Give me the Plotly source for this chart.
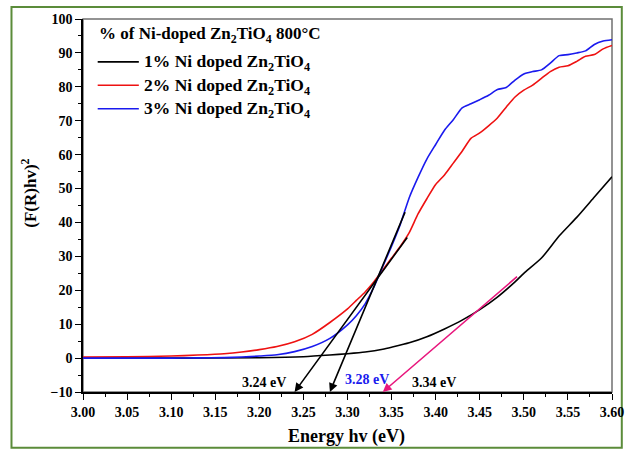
import plotly.graph_objects as go

# Photon energy (eV) and Kubelka-Munk transformed absorbance (F(R)hv)^2
energy_1 = [3.00, 3.10, 3.20, 3.25, 3.28, 3.30, 3.32, 3.34, 3.35, 3.37, 3.39, 3.41,
            3.43, 3.45, 3.47, 3.49, 3.50, 3.52, 3.54, 3.56, 3.58, 3.60]
ni1 = [0.0, 0.0, 0.1, 0.4, 0.9, 1.3, 1.8, 2.6, 3.2, 4.5, 6.3, 8.6,
       11.2, 14.3, 18.0, 22.5, 25.0, 29.5, 36.0, 41.5, 47.5, 53.5]

energy_23 = [3.00, 3.05, 3.10, 3.13, 3.16, 3.18, 3.20, 3.22, 3.24, 3.26, 3.28, 3.30,
             3.31, 3.32, 3.33, 3.34, 3.35, 3.36, 3.37, 3.38, 3.39, 3.40, 3.41, 3.42,
             3.43, 3.44, 3.45, 3.46, 3.47, 3.48, 3.49, 3.50, 3.51, 3.52, 3.53, 3.54,
             3.55, 3.56, 3.57, 3.58, 3.59, 3.60]
ni2 = [0.3, 0.4, 0.6, 0.9, 1.3, 1.8, 2.5, 3.4, 4.8, 7.0, 10.5, 14.5,
       17.0, 19.5, 22.5, 26.0, 29.5, 33.0, 37.0, 42.5, 47.0, 51.2, 54.0, 57.5,
       61.0, 64.8, 66.4, 68.5, 70.8, 74.0, 77.0, 79.0, 80.5, 82.5, 84.5, 85.8,
       86.2, 87.5, 89.0, 89.5, 91.2, 92.2]
ni3 = [0.0, 0.0, 0.0, 0.05, 0.15, 0.3, 0.6, 1.0, 1.9, 3.4, 5.8, 9.8,
       12.5, 16.0, 21.0, 27.0, 33.0, 39.5, 47.3, 53.3, 58.7, 63.0, 67.2, 70.3,
       73.8, 75.0, 76.2, 77.5, 79.2, 79.8, 82.0, 83.8, 84.5, 85.0, 87.0, 89.2,
       89.5, 90.0, 90.6, 92.5, 93.5, 93.9]

series_names = ["1% Ni doped Zn<sub>2</sub>TiO<sub>4</sub>",
                "2% Ni doped Zn<sub>2</sub>TiO<sub>4</sub>",
                "3% Ni doped Zn<sub>2</sub>TiO<sub>4</sub>"]
series_colors = ["#000000", "#ee1111", "#1a1aee"]

# Linear extrapolations: (tail energy, tail value, band gap energy)
tangents = [(3.369, 36.0, 3.24, "#000000"),
            (3.366, 43.5, 3.28, "#000000"),
            (3.494, 24.4, 3.34, "#e8177d")]
gap_labels = [(3.2056, -7.2, "3.24 eV", "#000000"),
              (3.322, -6.4, "3.28 eV", "#1a1aee"),
              (3.398, -7.2, "3.34 eV", "#000000")]

SERIF = "Liberation Serif"

fig = go.Figure()
for xs, ys, name, col in [(energy_1, ni1, series_names[0], series_colors[0]),
                          (energy_23, ni2, series_names[1], series_colors[1]),
                          (energy_23, ni3, series_names[2], series_colors[2])]:
    fig.add_trace(go.Scatter(x=xs, y=ys, mode="lines", name=name,
                             line=dict(color=col, width=1.6, shape="spline", smoothing=0.6),
                             showlegend=False))

annotations = []
for tx, ty, gap, col in tangents:
    annotations.append(dict(x=gap, y=-10, ax=tx, ay=ty, xref="x", yref="y",
                            axref="x", ayref="y", text="", showarrow=True,
                            arrowhead=2, arrowsize=1.1, arrowwidth=1.6, arrowcolor=col))
for lx, ly, txt, col in gap_labels:
    annotations.append(dict(x=lx, y=ly, xref="x", yref="y", text="<b>%s</b>" % txt,
                            xanchor="center", yanchor="middle", showarrow=False,
                            font=dict(family=SERIF, size=14, color=col)))

# Legend drawn as lines and text in paper coordinates
def px_x(p):
    return (p - 83) / 540.0

def px_y(p):
    return (392 - p) / 374.0

shapes = []
annotations.append(dict(x=px_x(97), y=px_y(34), xref="paper", yref="paper", xanchor="left",
                        yanchor="middle", showarrow=False,
                        text="<b>% of Ni-doped Zn<sub>2</sub>TiO<sub>4</sub> 800°C</b>",
                        font=dict(family=SERIF, size=17, color="#000000")))
for i, (name, col) in enumerate(zip(series_names, series_colors)):
    ypx = 61 + 23.5 * i
    shapes.append(dict(type="line", xref="paper", yref="paper", x0=px_x(98), x1=px_x(140),
                       y0=px_y(ypx), y1=px_y(ypx), line=dict(color=col, width=1.6)))
    annotations.append(dict(x=px_x(143), y=px_y(ypx + 1), xref="paper", yref="paper",
                            xanchor="left", yanchor="middle", showarrow=False,
                            text="<b>%s</b>" % name,
                            font=dict(family=SERIF, size=17.5, color="#000000")))

# Axis titles
annotations.append(dict(x=px_x(27), y=px_y(193), xref="paper", yref="paper", textangle=-90,
                        xanchor="center", yanchor="middle", showarrow=False,
                        text="<b>(F(R)hv)<sup>2</sup></b>",
                        font=dict(family=SERIF, size=17, color="#000000")))
annotations.append(dict(x=px_x(352), y=px_y(437), xref="paper", yref="paper",
                        xanchor="center", yanchor="middle", showarrow=False,
                        text="<b>Energy hv (eV)</b>",
                        font=dict(family=SERIF, size=18, color="#000000")))

# Gray frame on top/right and green outer border
shapes.append(dict(type="rect", xref="paper", yref="paper", x0=0, x1=1, y0=0, y1=1,
                   line=dict(color="#707070", width=1.5), layer="below"))
shapes.append(dict(type="rect", xref="paper", yref="paper", x0=px_x(10), x1=px_x(633),
                   y0=px_y(448), y1=px_y(6), line=dict(color="#5b8c3a", width=2),
                   layer="below"))

tick_font = dict(family=SERIF, size=14, color="#000", weight="bold")

fig.update_layout(
    width=636, height=450,
    margin=dict(l=83, r=13, t=18, b=58),
    paper_bgcolor="white", plot_bgcolor="white",
    annotations=annotations, shapes=shapes,
    xaxis=dict(range=[3.0, 3.6], tickmode="linear", tick0=3.0, dtick=0.05,
               tickformat=".2f", ticks="outside", ticklen=6, tickwidth=1.3,
               tickcolor="#000", showline=True, linecolor="#000", linewidth=1.6,
               showgrid=False, zeroline=False,
               minor=dict(dtick=0.025, ticks="outside", ticklen=3, tickcolor="#000",
                          tickwidth=1.2, showgrid=False),
               tickfont=tick_font),
    yaxis=dict(range=[-10, 100], tickmode="linear", tick0=-10, dtick=10,
               ticks="outside", ticklen=6, tickwidth=1.3, tickcolor="#000",
               showline=True, linecolor="#000", linewidth=1.6,
               showgrid=False, zeroline=False,
               minor=dict(dtick=5, ticks="outside", ticklen=3, tickcolor="#000",
                          tickwidth=1.2, showgrid=False),
               tickfont=tick_font),
)

fig.write_html("out.html")
